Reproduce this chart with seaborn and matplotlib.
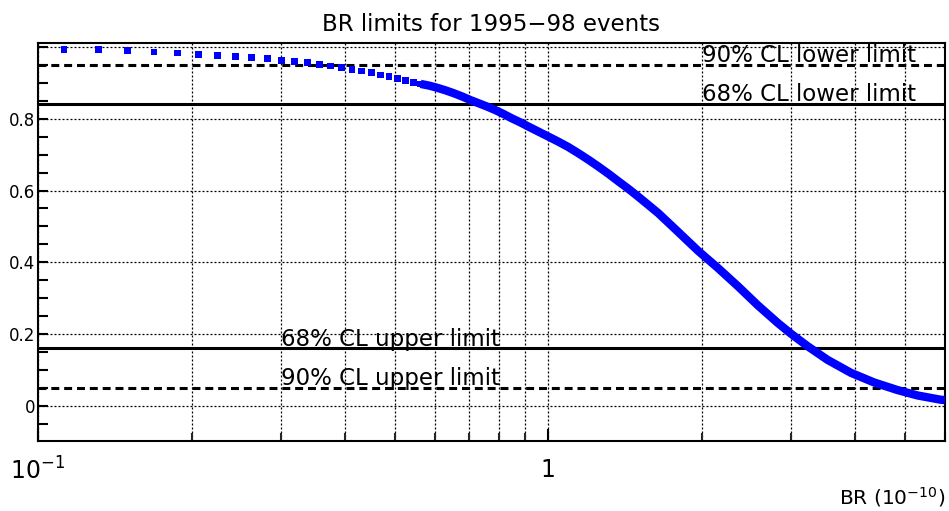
import numpy as np
import pandas as pd
import matplotlib
matplotlib.use("Agg")
import matplotlib.pyplot as plt
import seaborn as sns

# ---- data ----
sparse_x = [0.1125, 0.1313, 0.1500, 0.1688, 0.1875, 0.2063, 0.2250, 0.2438,
            0.2625, 0.2813, 0.3000, 0.3188, 0.3375, 0.3563, 0.3750, 0.3938,
            0.4125, 0.4313, 0.4500, 0.4688, 0.4875, 0.5063, 0.5250, 0.5438,
            0.5625]
sparse_y = [0.994, 0.992, 0.989, 0.986, 0.983, 0.980, 0.977, 0.974,
            0.971, 0.967, 0.963, 0.960, 0.956, 0.951, 0.947, 0.943,
            0.938, 0.933, 0.928, 0.922, 0.917, 0.912, 0.907, 0.902,
            0.897]
dense_x = [0.5625, 0.5856, 0.6071, 0.6297, 0.6534, 0.6783, 0.7043, 0.7311,
           0.7589, 0.7882, 0.8182, 0.8492, 0.8819, 0.9155, 0.9577, 1.0018,
           1.0478, 1.096, 1.146, 1.199, 1.254, 1.312, 1.372, 1.436, 1.502,
           1.644, 1.798, 1.968, 2.153, 2.357, 2.578, 2.82, 3.0, 3.228,
           3.532, 3.924, 4.359, 4.841, 5.297, 5.885, 6.0]
dense_y = [0.897, 0.892, 0.886, 0.879, 0.871, 0.862, 0.852, 0.843,
           0.834, 0.824, 0.813, 0.801, 0.790, 0.778, 0.764, 0.750,
           0.736, 0.721, 0.704, 0.686, 0.667, 0.647, 0.626, 0.605, 0.583,
           0.537, 0.485, 0.432, 0.384, 0.333, 0.280, 0.231, 0.200, 0.166,
           0.128, 0.092, 0.065, 0.044, 0.029, 0.017, 0.016]

limit_levels = [0.95, 0.84, 0.16, 0.05]
limit_texts = ["90% CL lower limit", "68% CL lower limit",
               "68% CL upper limit", "90% CL upper limit"]
limit_text_x = [2.0, 2.0, 0.3, 0.3]
limit_styles = ["dashed", "solid", "solid", "dashed"]

ytick_vals = [0.0, 0.2, 0.4, 0.6, 0.8, 1.0]
ytick_labels = ["0", "0.2", "0.4", "0.6", "0.8", ""]
xtick_vals = [0.1, 1.0]
xtick_labels = [r"$10^{-1}$", "1"]

title = "BR limits for 1995\u221298 events"
xlabel = r"BR ($10^{-10}$)"

# ---- figure ----
sns.set_theme(style="white")
plt.rcParams["font.family"] = ["DejaVu Sans"]
plt.rcParams["mathtext.fontset"] = "dejavusans"

W, H = 949, 511
fig = plt.figure(figsize=(W / 100, H / 100), dpi=100)
fig.patch.set_facecolor("white")
ax = fig.add_axes([38 / W, 70 / H, 907 / W, 398 / H])
ax.set_facecolor("white")

df_sparse = pd.DataFrame({"x": sparse_x, "y": sparse_y})
df_dense = pd.DataFrame({"x": dense_x, "y": dense_y})

ax.set_xscale("log")
ax.set_xlim(0.1, 6.0)
ax.set_ylim(-0.098, 1.011)

# grid
dot = (0, (1.6, 1.6))
ax.grid(which="both", axis="x", color="black", linestyle=dot, linewidth=0.9)
ax.grid(which="major", axis="y", color="black", linestyle=dot, linewidth=0.9)
ax.set_axisbelow(True)

# limit lines
for lev, sty in zip(limit_levels, limit_styles):
    ls = (0, (2.6, 1.6)) if sty == "dashed" else "-"
    ax.axhline(lev, color="black", linewidth=2.2, linestyle=ls, zorder=2)

# curve
sns.lineplot(data=df_dense, x="x", y="y", ax=ax, color="#0000ff",
             linewidth=6.0, zorder=3, solid_capstyle="butt")
sns.scatterplot(data=df_sparse, x="x", y="y", ax=ax, color="#0000ff",
                marker="s", s=24, edgecolor="none", linewidth=0, zorder=3)

# labels on lines
for lev, txt, tx in zip(limit_levels, limit_texts, limit_text_x):
    ax.text(tx, lev + 0.008, txt, ha="left", va="baseline",
            fontsize=16.5, color="black", zorder=4)

# ticks
ax.set_xticks(xtick_vals)
ax.set_xticklabels(xtick_labels)
ax.xaxis.set_minor_locator(matplotlib.ticker.LogLocator(base=10, subs=np.arange(2, 10)))
ax.xaxis.set_minor_formatter(matplotlib.ticker.NullFormatter())
ax.set_yticks(ytick_vals)
ax.set_yticklabels(ytick_labels)
ax.yaxis.set_minor_locator(matplotlib.ticker.MultipleLocator(0.05))

ax.tick_params(axis="x", which="major", direction="in", length=9, width=1.5,
               labelsize=17, pad=12, bottom=True, top=False, colors="black")
ax.tick_params(axis="x", which="minor", direction="in", length=6, width=1.5,
               bottom=True, top=False)
ax.tick_params(axis="y", which="both", direction="in", length=7.5, width=1.5,
               labelsize=12, pad=2, left=True, right=False, colors="black")

for sp in ax.spines.values():
    sp.set_visible(True)
    sp.set_color("black")
    sp.set_linewidth(1.5)

ax.set_xlabel("")
ax.set_ylabel("")
ax.set_title(title, fontsize=16.5, pad=9, color="black")
fig.text(945 / W, 1 - 497 / H, xlabel, ha="right", va="center", fontsize=14.5,
         color="black")

fig.savefig("out.png", dpi=100, facecolor="white")
